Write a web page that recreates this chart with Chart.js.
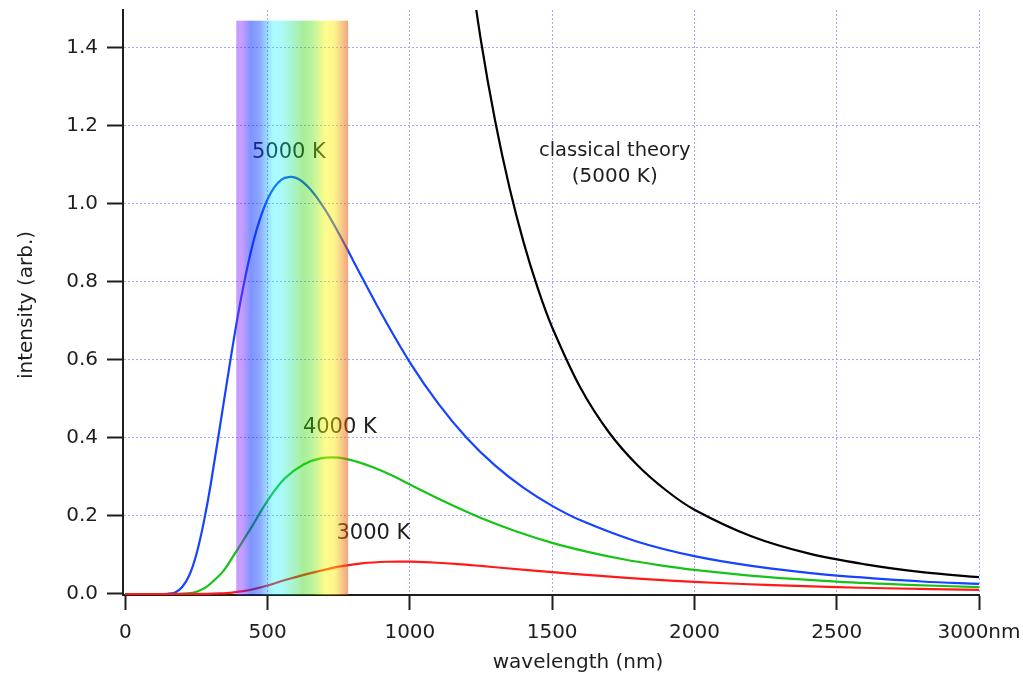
<!DOCTYPE html>
<html>
<head>
<meta charset="utf-8">
<title>Blackbody radiation</title>
<script src="https://cdn.jsdelivr.net/npm/chart.js@4.4.0/dist/chart.umd.min.js"></script>
<style>
  html, body { margin: 0; padding: 0; background: #fff; }
  #wrap { width: 1023px; height: 676px; }
</style>
</head>
<body>
<div id="wrap"><canvas id="planck"></canvas></div>
<script>
// values: wavelength in nm, intensity in arb. units
const wave5000 = [0, 100, 150, 175, 200, 225, 250, 275, 300, 350, 400, 450, 500, 550, 600, 650, 700, 750, 800, 900, 1000, 1100, 1200, 1300, 1400, 1500, 1600, 1800, 2000, 2200, 2400, 2500, 2800, 3000];
const int5000 = [0, 0, 0.0006, 0.004, 0.018, 0.048, 0.102, 0.181, 0.280, 0.510, 0.731, 0.903, 1.012, 1.063, 1.067, 1.038, 0.988, 0.925, 0.856, 0.719, 0.594, 0.488, 0.400, 0.329, 0.272, 0.226, 0.189, 0.134, 0.097, 0.072, 0.054, 0.047, 0.032, 0.026];

const wave4000 = [0, 125, 190, 220, 250, 280, 310, 345, 375, 440, 500, 560, 625, 690, 750, 810, 875, 940, 1000, 1125, 1250, 1375, 1500, 1625, 1750, 1875, 2000, 2250, 2500, 2750, 3000];
const int4000 = [0, 0, 0.0002, 0.0014, 0.0058, 0.0157, 0.0334, 0.0593, 0.0918, 0.167, 0.2395, 0.296, 0.3316, 0.3483, 0.3496, 0.340, 0.3237, 0.303, 0.2805, 0.2356, 0.1946, 0.160, 0.131, 0.108, 0.0891, 0.0741, 0.0618, 0.0438, 0.0317, 0.0235, 0.0177];

const wave3000 = [0, 250, 290, 330, 375, 420, 460, 500, 580, 670, 750, 830, 920, 1000, 1080, 1170, 1250, 1330, 1500, 1670, 1830, 2000, 2170, 2330, 2500, 2670, 3000];
const int3000 = [0, 0.00005, 0.0003, 0.0014, 0.0037, 0.0079, 0.0141, 0.0218, 0.0397, 0.0568, 0.0702, 0.0787, 0.0827, 0.0830, 0.0807, 0.0768, 0.0719, 0.0666, 0.0559, 0.0462, 0.0379, 0.0311, 0.0256, 0.0212, 0.0176, 0.0147, 0.0104];

const waveClassical = [1200, 1250, 1300, 1350, 1400, 1450, 1500, 1600, 1700, 1800, 1900, 2000, 2200, 2400, 2600, 2800, 3000];
const intClassical = [1.669, 1.418, 1.212, 1.042, 0.901, 0.783, 0.684, 0.528, 0.414, 0.330, 0.266, 0.216, 0.148, 0.104, 0.076, 0.056, 0.043];

const xTicks = [0, 500, 1000, 1500, 2000, 2500, 3000];
const xTickLabels = ['0', '500', '1000', '1500', '2000', '2500', '3000nm'];
const yTicks = [0, 0.2, 0.4, 0.6, 0.8, 1.0, 1.2, 1.4];
const yTickLabels = ['0.0', '0.2', '0.4', '0.6', '0.8', '1.0', '1.2', '1.4'];

// visible part of the spectrum (nm) and how high the band goes
const visibleFrom = 390;
const visibleTo = 783;
const visibleTop = 1.47;

const FONT = '"DejaVu Sans", sans-serif';

// text notes placed in data coordinates
const notes = [
  { text: '5000 K', x: 575, y: 1.133, size: 21 },
  { text: '4000 K', x: 754, y: 0.426, size: 21 },
  { text: '3000 K', x: 872, y: 0.154, size: 21 },
  { text: 'classical theory', x: 1720, y: 1.136, size: 19.5 },
  { text: '(5000 K)', x: 1720, y: 1.069, size: 20 }
];

function pts(xs, ys) {
  return xs.map((x, i) => ({ x: x, y: ys[i] }));
}

const spectrumBand = {
  id: 'spectrumBand',
  afterDatasetsDraw(chart) {
    const { ctx, chartArea, scales } = chart;
    const x = scales.x, y = scales.y;
    ctx.save();
    ctx.textAlign = 'center';
    ctx.textBaseline = 'middle';
    ctx.fillStyle = '#1e1e1e';
    notes.forEach(n => {
      ctx.font = n.size + 'px ' + FONT;
      ctx.fillText(n.text, x.getPixelForValue(n.x), y.getPixelForValue(n.y));
    });

    // translucent rainbow laid over the curves
    const l = x.getPixelForValue(visibleFrom);
    const r = x.getPixelForValue(visibleTo);
    const t = y.getPixelForValue(visibleTop);
    const g = ctx.createLinearGradient(l, 0, r, 0);
    g.addColorStop(0.00, 'rgba(130,40,250,0.45)');
    g.addColorStop(0.05, 'rgba(130,40,250,0.45)');
    g.addColorStop(0.13, 'rgba(0,40,255,0.50)');
    g.addColorStop(0.21, 'rgba(0,60,255,0.45)');
    g.addColorStop(0.33, 'rgba(0,240,255,0.33)');
    g.addColorStop(0.40, 'rgba(0,240,240,0.33)');
    g.addColorStop(0.60, 'rgba(40,210,0,0.40)');
    g.addColorStop(0.66, 'rgba(60,220,0,0.38)');
    g.addColorStop(0.80, 'rgba(255,250,0,0.45)');
    g.addColorStop(0.88, 'rgba(255,230,0,0.45)');
    g.addColorStop(1.00, 'rgba(225,70,10,0.50)');
    ctx.fillStyle = g;
    ctx.fillRect(l, t, r - l, chartArea.bottom - t);
    ctx.restore();
  },
  afterDraw(chart) {
    const { ctx } = chart;
    ctx.save();
    ctx.fillStyle = '#1e1e1e';
    ctx.font = '20px ' + FONT;
    ctx.textAlign = 'center';
    ctx.textBaseline = 'middle';
    ctx.fillText('wavelength (nm)', 578, 663);
    ctx.translate(27, 305);
    ctx.rotate(-Math.PI / 2);
    ctx.fillText('intensity (arb.)', 0, 0);
    ctx.restore();
  }
};

const gridColor = ctx => (ctx.tick && ctx.tick.value === 0) ? 'rgba(0,0,0,0)' : '#a4a4ff';

new Chart(document.getElementById('planck'), {
  type: 'line',
  data: {
    datasets: [
      { label: '3000 K', data: pts(wave3000, int3000), borderColor: '#ff1a1a' },
      { label: '4000 K', data: pts(wave4000, int4000), borderColor: '#16c316' },
      { label: '5000 K', data: pts(wave5000, int5000), borderColor: '#1543ff' },
      { label: 'classical theory (5000 K)', data: pts(waveClassical, intClassical), borderColor: '#000000' }
    ]
  },
  options: {
    responsive: true,
    maintainAspectRatio: false,
    animation: false,
    layout: { padding: { top: 10, right: 44, bottom: 0, left: 0 } },
    elements: {
      point: { radius: 0 },
      line: { borderWidth: 2.2, fill: false, tension: 0.35 }
    },
    plugins: {
      legend: { display: false },
      tooltip: { enabled: false }
    },
    scales: {
      x: {
        type: 'linear',
        min: -8,
        max: 3000,
        afterBuildTicks: s => { s.ticks = xTicks.map(v => ({ value: v })); },
        afterFit: s => { s.height = 81; s.paddingLeft = 0; s.paddingRight = 0; },
        ticks: {
          callback: (v, i) => xTickLabels[i],
          font: { family: FONT, size: 20 },
          color: '#1e1e1e',
          padding: 11,
          maxRotation: 0,
          autoSkip: false
        },
        grid: { color: gridColor, lineWidth: 1, tickColor: '#1e1e1e', tickWidth: 2, tickLength: 15, tickBorderDash: [] },
        border: { color: '#1e1e1e', width: 2, dash: [2, 2] }
      },
      y: {
        min: -0.0026,
        max: 1.4974,
        afterBuildTicks: s => { s.ticks = yTicks.map(v => ({ value: v })); },
        afterFit: s => { s.width = 123; s.paddingTop = 0; s.paddingBottom = 0; },
        ticks: {
          callback: (v, i) => yTickLabels[i],
          font: { family: FONT, size: 20 },
          color: '#1e1e1e',
          padding: 9
        },
        grid: { color: gridColor, lineWidth: 1, tickColor: '#1e1e1e', tickWidth: 2, tickLength: 16, tickBorderDash: [] },
        border: { color: '#1e1e1e', width: 2, dash: [2, 2] }
      }
    }
  },
  plugins: [spectrumBand]
});
</script>
</body>
</html>
